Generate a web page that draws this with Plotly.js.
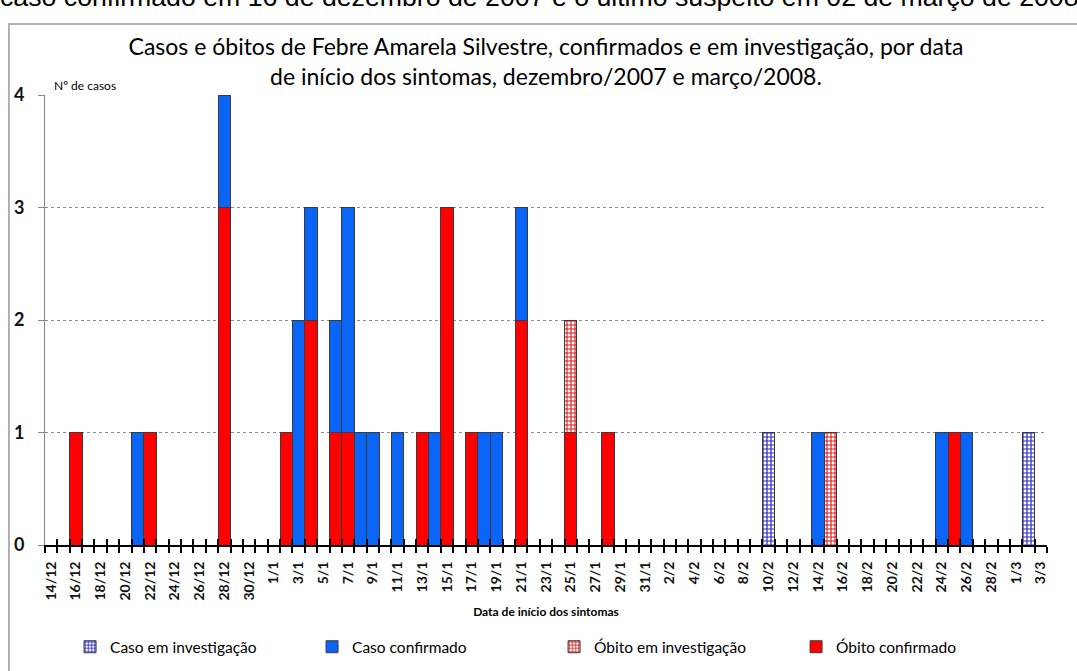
<!DOCTYPE html>
<html>
<head>
<meta charset="utf-8">
<script src="https://cdn.plot.ly/plotly-3.0.1.min.js"></script>
<style>html,body{margin:0;padding:0;background:#fff;}#chart{width:1077px;height:671px;}</style>
</head>
<body>
<div id="chart"></div>
<script>
// Every day from 14/12/2007 to 3/3/2008 (categories)
const days = [
  '14/12','15/12','16/12','17/12','18/12','19/12','20/12','21/12','22/12','23/12','24/12','25/12','26/12','27/12','28/12','29/12','30/12','31/12',
  '1/1','2/1','3/1','4/1','5/1','6/1','7/1','8/1','9/1','10/1','11/1','12/1','13/1','14/1','15/1','16/1','17/1','18/1','19/1','20/1','21/1','22/1','23/1','24/1','25/1','26/1','27/1','28/1','29/1','30/1','31/1',
  '1/2','2/2','3/2','4/2','5/2','6/2','7/2','8/2','9/2','10/2','11/2','12/2','13/2','14/2','15/2','16/2','17/2','18/2','19/2','20/2','21/2','22/2','23/2','24/2','25/2','26/2','27/2','28/2','29/2',
  '1/3','2/3','3/3'
];
// Tick labels: every other day
const tickLabels = days.filter((d, i) => i % 2 === 0);

// Series: dates and values
const obitoConfirmadoDays   = ['16/12','22/12','28/12','2/1','4/1','6/1','7/1','13/1','15/1','17/1','21/1','25/1','28/1','25/2'];
const obitoConfirmadoValues = [1, 1, 3, 1, 2, 1, 1, 1, 3, 1, 2, 1, 1, 1];

const obitoInvestigacaoDays   = ['25/1','15/2'];
const obitoInvestigacaoValues = [1, 1];

const casoConfirmadoDays   = ['21/12','28/12','3/1','4/1','6/1','7/1','8/1','9/1','11/1','14/1','18/1','19/1','21/1','14/2','24/2','26/2'];
const casoConfirmadoValues = [1, 1, 2, 1, 1, 2, 1, 1, 1, 1, 1, 1, 1, 1, 1, 1];

const casoInvestigacaoDays   = ['10/2','2/3'];
const casoInvestigacaoValues = [1, 1];

const idx = arr => arr.map(d => days.indexOf(d));
const tickVals = tickLabels.map(d => days.indexOf(d));

const FONT = 'Lato, "Open Sans", sans-serif';
const RED = '#ff0000', BLUE = '#0a64f5';
const outline = {color: '#3a3a3a', width: 1};

const traces = [
  {type: 'bar', name: 'Óbito confirmado', x: idx(obitoConfirmadoDays), y: obitoConfirmadoValues,
   marker: {color: RED, line: outline}},
  {type: 'bar', name: 'Óbito em investigação', x: idx(obitoInvestigacaoDays), y: obitoInvestigacaoValues,
   marker: {color: RED, line: outline, pattern: {shape: '+', fgcolor: '#e01010', bgcolor: '#ffffff', size: 4, solidity: 0.45, fillmode: 'replace'}}},
  {type: 'bar', name: 'Caso confirmado', x: idx(casoConfirmadoDays), y: casoConfirmadoValues,
   marker: {color: BLUE, line: outline}},
  // drawn on the overlaid x axis (same scale) – these days have no other bars to stack with
  {type: 'bar', name: 'Caso em investigação', x: idx(casoInvestigacaoDays), y: casoInvestigacaoValues,
   xaxis: 'x2', yaxis: 'y', width: 1,
   marker: {color: '#2626c8', line: outline, pattern: {shape: '+', fgcolor: '#2626c8', bgcolor: '#ffffff', size: 4, solidity: 0.5, fillmode: 'replace'}}}
];

const xRange = [-0.5, days.length - 0.5];

const layout = {
  width: 1077, height: 671,
  margin: {l: 45, r: 30, t: 95, b: 126, autoexpand: false},
  paper_bgcolor: '#ffffff', plot_bgcolor: '#ffffff',
  barmode: 'stack', bargap: 0,
  showlegend: true,
  font: {family: FONT, color: '#000'},
  title: {
    text: 'Casos e óbitos de Febre Amarela Silvestre, confirmados e em investigação, por data<br>de início dos sintomas, dezembro/2007 e março/2008.',
    font: {family: FONT, size: 23, color: '#000'},
    x: 0.5, xref: 'paper', xanchor: 'center',
    y: 0.918, yref: 'container', yanchor: 'top'
  },
  xaxis: {
    range: xRange, tickmode: 'array', tickvals: tickVals, ticktext: tickLabels,
    tickangle: -90, ticks: '', ticklen: 0, ticklabelstandoff: 9,
    tickfont: {family: FONT, size: 14, color: '#111', weight: 'bold'},
    showline: true, linecolor: '#000', linewidth: 2,
    showgrid: false, zeroline: false,
    minor: {tickmode: 'linear', tick0: -0.5, dtick: 1, ticks: 'outside', ticklen: 6, tickcolor: '#000', tickwidth: 2, showgrid: false},
    title: {text: 'Data de início dos sintomas', font: {family: FONT, size: 12, color: '#000', weight: 'bold'}, standoff: 8}
  },
  xaxis2: {
    overlaying: 'x', anchor: 'y', side: 'bottom', range: xRange,
    tickmode: 'linear', tick0: -0.5, dtick: 1, ticks: 'inside', ticklen: 6, tickcolor: '#000', tickwidth: 2,
    showticklabels: false, showgrid: false, showline: false, zeroline: false
  },
  yaxis: {
    range: [0, 4], tickmode: 'linear', tick0: 0, dtick: 1,
    ticks: 'outside', ticklen: 6, tickcolor: '#888', tickwidth: 1,
    ticklabelstandoff: 10,
    tickfont: {family: FONT, size: 18, color: '#111', weight: 'bold'},
    showline: true, linecolor: '#888', linewidth: 1,
    showgrid: true, gridcolor: '#8a8a8a', gridwidth: 1, griddash: 'dot',
    zeroline: false
  },
  legend: {
    orientation: 'h', traceorder: 'reversed',
    x: 0.025, xanchor: 'left', y: -0.227, yanchor: 'middle',
    font: {family: FONT, size: 15.5, color: '#000'},
    entrywidth: 197, entrywidthmode: 'pixels',
    itemwidth: 30, bgcolor: 'rgba(0,0,0,0)'
  },
  annotations: [
    {text: 'caso confirmado em 16 de dezembro de 2007 e o último suspeito em 02 de março de 2008',
     xref: 'paper', yref: 'paper', x: -0.047, xanchor: 'left', y: 1.2177, yanchor: 'middle',
     showarrow: false, font: {family: '"Liberation Sans", Arial, sans-serif', size: 26.7, color: '#000'}},
    {text: 'Nº de casos', xref: 'paper', yref: 'paper', x: 0.007, xanchor: 'left', y: 1.0, yanchor: 'bottom',
     showarrow: false, font: {family: FONT, size: 12, color: '#000'}}
  ],
  shapes: [
    {type: 'rect', xref: 'paper', yref: 'paper', x0: -0.036, x1: 1.06, y0: -0.35, y1: 1.158,
     line: {color: '#9a9a9a', width: 1.5}, fillcolor: 'rgba(0,0,0,0)', layer: 'below'}
  ]
};

Plotly.newPlot('chart', traces, layout, {displayModeBar: false, staticPlot: true});
</script>
</body>
</html>
